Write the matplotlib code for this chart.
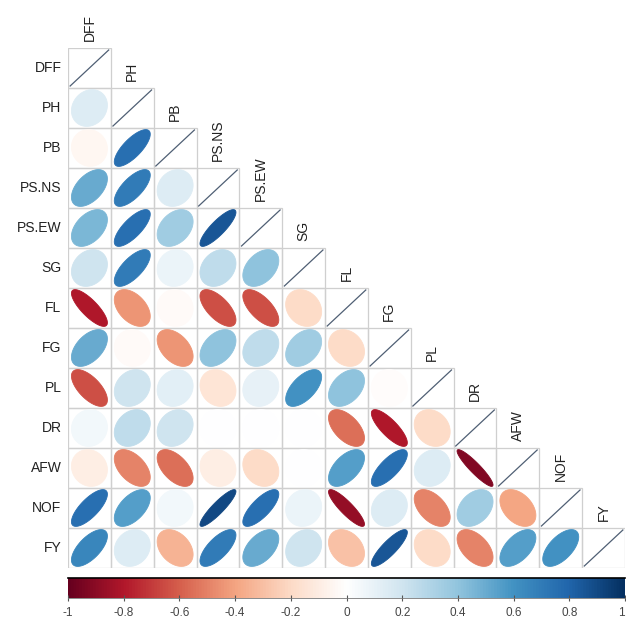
import numpy as np
import matplotlib
matplotlib.use("Agg")
import matplotlib.pyplot as plt
from matplotlib.colors import LinearSegmentedColormap
from matplotlib.patches import Polygon, Rectangle

plt.rcParams['font.family'] = ['Liberation Sans', 'DejaVu Sans']

traits = ["DFF", "PH", "PB", "PS.NS", "PS.EW", "SG", "FL", "FG", "PL",
          "DR", "AFW", "NOF", "FY"]

# lower triangle of the correlation matrix, row by row (diagonal left out)
lower = [
    [0.15],
    [-0.05, 0.75],
    [0.50, 0.70, 0.15],
    [0.45, 0.75, 0.35, 0.85],
    [0.20, 0.70, 0.08, 0.25, 0.40],
    [-0.80, -0.45, -0.03, -0.65, -0.65, -0.20],
    [0.50, -0.03, -0.45, 0.40, 0.25, 0.35, -0.20],
    [-0.65, 0.20, 0.12, -0.15, 0.10, 0.60, 0.40, -0.02],
    [0.05, 0.25, 0.20, 0.00, 0.00, 0.00, -0.55, -0.80, -0.20],
    [-0.10, -0.50, -0.55, -0.10, -0.20, 0.00, 0.55, 0.75, 0.15, -0.92],
    [0.75, 0.55, 0.05, 0.90, 0.75, 0.08, -0.88, 0.15, -0.50, 0.35, -0.40],
    [0.65, 0.15, -0.35, 0.70, 0.50, 0.20, -0.30, 0.85, -0.20, -0.50, 0.55, 0.60],
]

cbar_ticks = [-1, -0.8, -0.6, -0.4, -0.2, 0, 0.2, 0.4, 0.6, 0.8, 1]

n = len(traits)
corr = np.eye(n)
for i, row in enumerate(lower, start=1):
    for j, v in enumerate(row):
        corr[i, j] = v
        corr[j, i] = v

col2 = ["#67001F", "#B2182B", "#D6604D", "#F4A582", "#FDDBC7", "#FFFFFF",
        "#D1E5F0", "#92C5DE", "#4393C3", "#2166AC", "#053061"]
cmap = LinearSegmentedColormap.from_list("rdbu2", col2, N=200)

W, H = 626, 619
fig = plt.figure(figsize=(W / 100, H / 100), dpi=100)

gx0, gx1, gy0, gy1 = 68, 625, 48, 568
ax = fig.add_axes([gx0 / W, 1 - gy1 / H, (gx1 - gx0) / W, (gy1 - gy0) / H])
ax.set_xlim(0, n)
ax.set_ylim(n, 0)
ax.axis("off")

t = np.linspace(0, 2 * np.pi, 120)
hx, hy = 0.42, 0.46


def ellipse_pts(r, cx, cy):
    d = np.arccos(np.clip(r, -1, 1))
    ex = np.cos(t + d / 2)
    ey = np.cos(t - d / 2)
    return np.column_stack([cx + hx * ex, cy - hy * ey])


for i in range(n):
    for j in range(i + 1):
        ax.add_patch(Rectangle((j, i), 1, 1, fill=False, edgecolor="#cfcfcf",
                               linewidth=0.9, zorder=1))
        cx, cy = j + 0.5, i + 0.5
        if i == j:
            ax.plot([cx - 0.45, cx + 0.45], [cy + 0.45, cy - 0.45],
                    color="#4f5f74", linewidth=0.9, zorder=2)
            ax.text(cx, i - 0.18, traits[j], rotation=90, ha="center",
                    va="bottom", fontsize=10, color="#222222")
        else:
            r = corr[i, j]
            col = cmap((r + 1) / 2)
            ax.add_patch(Polygon(ellipse_pts(r, cx, cy), closed=True,
                                 facecolor=col, edgecolor=col, linewidth=0.6,
                                 zorder=2))
    ax.text(-0.15, i + 0.5, traits[i], ha="right", va="center", fontsize=10,
            color="#222222")

# colour key
cax = fig.add_axes([gx0 / W, 1 - 598 / H, (gx1 - gx0) / W, 20 / H])
grad = np.linspace(-1, 1, 400).reshape(1, -1)
cax.imshow(grad, aspect="auto", cmap=cmap, vmin=-1, vmax=1,
           extent=[-1, 1, 0, 1])
cax.set_xlim(-1, 1)
cax.set_yticks([])
cax.set_xticks(cbar_ticks)
cax.set_xticklabels([f"{v:g}" for v in cbar_ticks], fontsize=8.5,
                    color="#444444")
cax.get_xticklabels()[-1].set_horizontalalignment("right")
cax.tick_params(axis="x", direction="inout", length=5, width=0.8,
                color="#555555", pad=4)
for side in ["left", "right"]:
    cax.spines[side].set_visible(False)
cax.spines["top"].set_linewidth(1.2)
cax.spines["bottom"].set_linewidth(0.6)
cax.spines["bottom"].set_color("#777777")

fig.savefig("out.png", dpi=100)
